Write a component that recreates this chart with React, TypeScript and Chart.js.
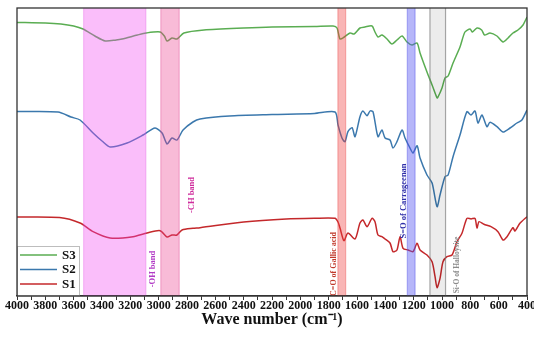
import React, { useEffect, useRef } from "react";
import { Chart, registerables } from "chart.js";

Chart.register(...registerables);

// Series: wavenumber (cm-1) and offset transmittance (a.u.)
const S3_WN = [4000, 3800, 3690, 3600, 3534, 3450, 3377, 3300, 3258, 3150, 3089, 2990, 2960, 2941, 2906, 2871, 2822, 2680, 2400, 2200, 1900, 1769, 1741, 1720, 1690, 1649, 1621, 1579, 1544, 1494, 1473, 1452, 1424, 1388, 1353, 1318, 1282, 1247, 1212, 1176, 1155, 1106, 1070, 1035, 1028, 1000, 979, 957, 922, 873, 838, 802, 785, 753, 720, 700, 661, 612, 569, 534, 499, 464, 428, 400];
const S3_T = [273.6, 273, 272, 270, 267, 260, 255, 256, 257, 261, 263, 264, 260, 255, 258, 257, 263, 266, 268, 269, 269.5, 270, 268, 257, 259, 263, 262, 268, 269, 270, 264, 259, 261, 257, 252, 256, 260, 254, 251, 253, 243, 224, 211, 198, 199, 208, 218, 220, 233, 249, 264, 267, 264, 268, 266, 261, 263, 260, 254, 258, 263, 266, 271, 279];

const S2_WN = [4000, 3710, 3619, 3555, 3463, 3400, 3343, 3223, 3110, 3026, 2976, 2941, 2906, 2871, 2828, 2758, 2708, 2500, 2200, 1900, 1755, 1734, 1706, 1685, 1664, 1635, 1614, 1579, 1558, 1529, 1508, 1487, 1452, 1424, 1402, 1367, 1346, 1318, 1282, 1261, 1226, 1205, 1176, 1155, 1106, 1070, 1035, 1014, 979, 957, 922, 873, 824, 795, 767, 746, 718, 683, 661, 612, 569, 520, 471, 436, 400];
const S2_T = [184.4, 184, 179, 176, 163, 155, 149, 153, 161, 168, 163, 152, 158, 156, 166, 174, 177, 180, 181.4, 182.5, 184, 171, 158, 154.3, 164.3, 168.3, 159.3, 179.3, 185, 180.3, 185, 184.3, 159.3, 166, 158, 156, 148, 154.3, 166, 158, 148, 143, 150.3, 138, 121, 113, 89.3, 101, 119.3, 121, 139.3, 161, 184.3, 181, 185, 173, 181, 169.3, 173.7, 169.3, 164, 168, 173, 176, 186];

const S1_WN = [4000, 3700, 3555, 3463, 3343, 3181, 3082, 2990, 2941, 2906, 2871, 2835, 2758, 2708, 2400, 2100, 1900, 1755, 1734, 1720, 1692, 1664, 1614, 1579, 1558, 1529, 1494, 1473, 1452, 1424, 1402, 1367, 1346, 1318, 1296, 1275, 1240, 1205, 1176, 1155, 1106, 1070, 1049, 1035, 1014, 993, 965, 929, 894, 859, 824, 795, 767, 753, 739, 704, 654, 605, 569, 541, 499, 485, 450, 400];
const S1_T = [79, 78.5, 73, 64.3, 58, 59.3, 63, 65.3, 59, 61, 61, 66, 67.7, 68.3, 74, 77, 77.7, 77.7, 74, 68, 55.3, 63, 57, 73, 76, 69.3, 77.7, 74.3, 61, 59.3, 57, 53, 44.3, 46, 59.3, 47.7, 46, 44.3, 52.7, 46, 41, 34.3, 19.3, 8.3, 17.7, 34.3, 39.3, 41, 54.3, 62.7, 77.7, 77, 77.7, 68, 74.3, 71.7, 69.3, 64.3, 56, 59.3, 68.3, 65, 72.7, 79.3];

const SERIES_LABELS = ["S3", "S2", "S1"];

// Shaded bands (cm-1)
const BAND_FROM = [3530, 2985, 1735, 1245, 1085];
const BAND_TO = [3090, 2855, 1680, 1190, 975];

// Annotation labels and their wavenumber / height
const ANNOT_TEXT = ["-OH band", "-CH band", "C=O of Gallic acid", "S=O of Carrageenan", "Si-O of Halloysite"];
const ANNOT_WN = [3040, 2765, 1760, 1270, 893];
const ANNOT_Y = [27, 101, 32, 95, 31];

const SERIF = "'Liberation Serif', 'Times New Roman', serif";

const COLORS = ["#5aad52", "#3b78ad", "#c4282b"];
const BAND_FILL = [
  "rgba(240,70,240,0.35)",
  "rgba(235,60,140,0.35)",
  "rgba(240,60,60,0.38)",
  "rgba(80,80,240,0.42)",
  "rgba(0,0,0,0.075)",
];
const BAND_EDGE = [
  "rgba(220,60,220,0.25)",
  "rgba(220,60,140,0.35)",
  "rgba(230,60,60,0.35)",
  "rgba(80,80,230,0.4)",
  "rgba(120,120,120,0.65)",
];
const ANNOT_COLOR = ["#b23cc6", "#cf2c9c", "#c0392b", "#2e2ea8", "#8a8a8a"];
const ANNOT_SIZE = [8.5, 8.5, 8, 8.5, 7.5];

const overlayPlugin = {
  id: "overlay",
  afterDatasetsDraw(chart: any) {
    const { ctx, chartArea, scales } = chart;
    const xs = scales.x;
    const ys = scales.y;
    ctx.save();
    // bands
    for (let i = 0; i < BAND_FROM.length; i++) {
      const a = xs.getPixelForValue(BAND_FROM[i]);
      const b = xs.getPixelForValue(BAND_TO[i]);
      ctx.fillStyle = BAND_FILL[i];
      ctx.fillRect(a, chartArea.top, b - a, chartArea.bottom - chartArea.top);
      ctx.strokeStyle = BAND_EDGE[i];
      ctx.lineWidth = 1.2;
      ctx.beginPath();
      ctx.moveTo(a, chartArea.top);
      ctx.lineTo(a, chartArea.bottom);
      ctx.moveTo(b, chartArea.top);
      ctx.lineTo(b, chartArea.bottom);
      ctx.stroke();
    }
    // annotations
    for (let i = 0; i < ANNOT_TEXT.length; i++) {
      const x = xs.getPixelForValue(ANNOT_WN[i]);
      const y = ys.getPixelForValue(ANNOT_Y[i]);
      ctx.save();
      ctx.translate(x, y);
      ctx.rotate(-Math.PI / 2);
      ctx.font = `bold ${ANNOT_SIZE[i]}px ${SERIF}`;
      ctx.fillStyle = ANNOT_COLOR[i];
      ctx.textAlign = "center";
      ctx.textBaseline = "middle";
      ctx.fillText(ANNOT_TEXT[i], 0, 0);
      ctx.restore();
    }
    // legend
    const lx = chartArea.left;
    const lr = lx + 63;
    const lb = chartArea.bottom;
    const lt = lb - 50;
    ctx.fillStyle = "#ffffff";
    ctx.fillRect(lx, lt, lr - lx, lb - lt);
    ctx.strokeStyle = "#bdbdbd";
    ctx.lineWidth = 1;
    ctx.strokeRect(lx + 0.5, lt + 0.5, lr - lx - 1, lb - lt - 1);
    chart.data.datasets.forEach((ds: any, i: number) => {
      const yy = lt + 9 + i * 14.5;
      ctx.strokeStyle = ds.borderColor;
      ctx.lineWidth = 1.5;
      ctx.beginPath();
      ctx.moveTo(lx + 3, yy);
      ctx.lineTo(lx + 40, yy);
      ctx.stroke();
      ctx.fillStyle = "#111";
      ctx.font = `bold 13px ${SERIF}`;
      ctx.textAlign = "left";
      ctx.textBaseline = "middle";
      ctx.fillText(ds.label, lx + 45, yy + 0.5);
    });
    // frame
    ctx.strokeStyle = "#333";
    ctx.lineWidth = 1.3;
    ctx.strokeRect(chartArea.left, chartArea.top, chartArea.right - chartArea.left, chartArea.bottom - chartArea.top);
    ctx.restore();
  },
};

export default function App() {
  const ref = useRef<HTMLCanvasElement>(null);
  useEffect(() => {
    document.body.style.margin = "0";
    const toPts = (wn: number[], t: number[]) => wn.map((x, i) => ({ x, y: t[i] }));
    const seriesData = [toPts(S3_WN, S3_T), toPts(S2_WN, S2_T), toPts(S1_WN, S1_T)];
    const chart = new Chart(ref.current as HTMLCanvasElement, {
      type: "line",
      data: {
        datasets: seriesData.map((d, i) => ({
          label: SERIES_LABELS[i],
          data: d,
          borderColor: COLORS[i],
          backgroundColor: COLORS[i],
          borderWidth: 1.5,
          pointRadius: 0,
          tension: 0.25,
          fill: false,
        })),
      },
      options: {
        animation: false,
        responsive: false,
        devicePixelRatio: 1,
        layout: { padding: { left: 17, right: 7, top: 8, bottom: 0 } },
        plugins: { legend: { display: false }, tooltip: { enabled: false } },
        scales: {
          x: {
            type: "linear",
            reverse: true,
            min: 400,
            max: 4000,
            afterFit: (scale: any) => {
              scale.height = 42;
              scale.paddingLeft = 0;
              scale.paddingRight = 0;
            },
            border: { display: true, color: "#333", width: 1.3 },
            grid: { display: true, drawOnChartArea: false, drawTicks: true, tickLength: 4, color: "#333" },
            ticks: {
              stepSize: 100,
              autoSkip: false,
              maxRotation: 0,
              minRotation: 0,
              padding: 0,
              color: "#111",
              font: { family: SERIF, size: 12, weight: "bold", lineHeight: 1 },
              callback: (v: any) => (Number(v) % 200 === 0 ? String(v) : ""),
            },
            title: {
              display: true,
              text: "Wave number (cm⁻¹)",
              color: "#111",
              font: { family: SERIF, size: 16, weight: "bold" },
              padding: { top: 0, bottom: 9 },
            },
          },
          y: { display: false, min: 0, max: 288 },
        },
      },
      plugins: [overlayPlugin],
    } as any);
    return () => chart.destroy();
  }, []);
  return <canvas ref={ref} width={534} height={338} style={{ display: "block" }} />;
}
